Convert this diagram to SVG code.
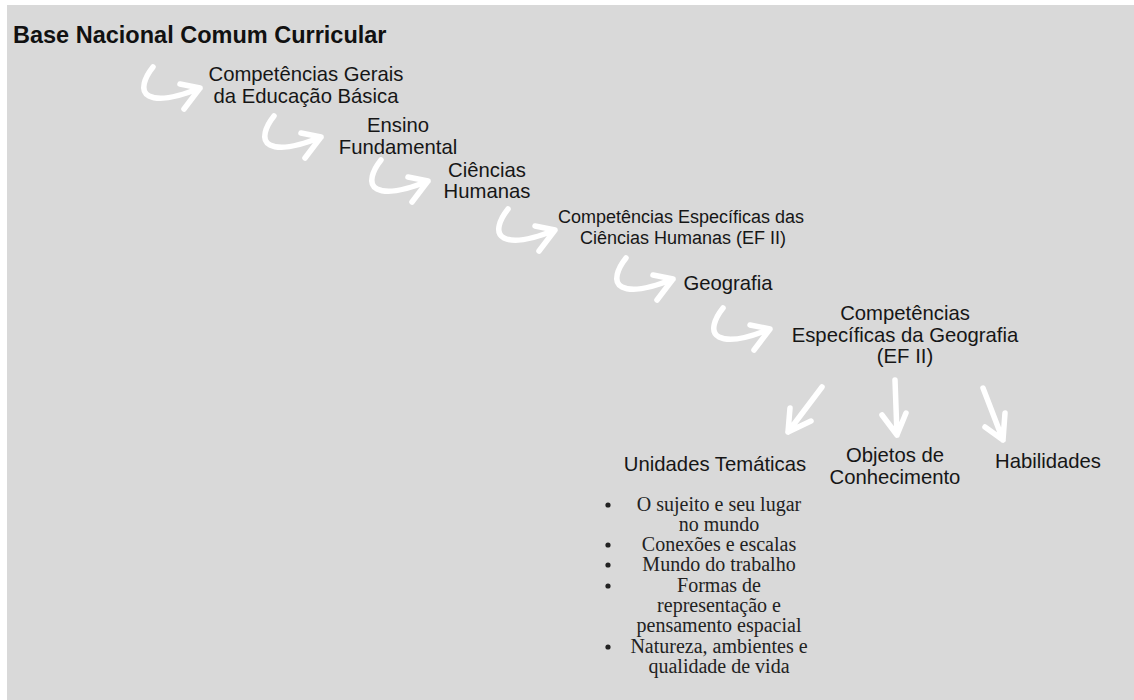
<svg xmlns="http://www.w3.org/2000/svg" width="1134" height="700" viewBox="0 0 1134 700">
<defs>
<style>
.t{font-family:"Liberation Sans",Arial,sans-serif;font-size:20.3px;fill:#161616;text-anchor:middle}
.s{font-size:18px}
.h{font-family:"Liberation Sans",Arial,sans-serif;font-size:23.5px;font-weight:bold;fill:#111}
.b{font-family:"Liberation Serif","Times New Roman",serif;font-size:20px;fill:#222;text-anchor:middle}
.a{fill:none;stroke:#fff;stroke-width:5.5;stroke-linecap:round;stroke-linejoin:round}
</style>
<path id="hook" d="M0,0 C-8,10 -14,24 -4,29 C8,35 30,28 47,21 M27,17 L47,21 L31,42"/>
</defs>
<rect x="0" y="0" width="1134" height="700" fill="#fff"/>
<rect x="7" y="5" width="1127" height="695" fill="#d9d9d9"/>
<text class="h" x="13" y="43">Base Nacional Comum Curricular</text>
<g id="connectors" class="a">
<use href="#hook" transform="translate(153,67)"/>
<use href="#hook" transform="translate(274,116)"/>
<use href="#hook" transform="translate(381,160)"/>
<use href="#hook" transform="translate(508,209)"/>
<use href="#hook" transform="translate(626,258)"/>
<use href="#hook" transform="translate(723,308)"/>
<path d="M822,387 L788,432 M790,408 L788,432 L811,421"/>
<path d="M895,380 L897,435 M882,415 L897,435 L906,413"/>
<path d="M983,388 L1003,440 M985,427 L1003,440 L1005,413"/>
</g>
<g id="n1"><text class="t" x="306" y="81">Competências Gerais</text><text class="t" x="306" y="102.5">da Educação Básica</text></g>
<g id="n2"><text class="t" x="398" y="132">Ensino</text><text class="t" x="398" y="153.5">Fundamental</text></g>
<g id="n3"><text class="t" x="487" y="176.5">Ciências</text><text class="t" x="487" y="198">Humanas</text></g>
<g id="n4"><text class="t s" x="681" y="223">Competências Específicas das</text><text class="t s" x="683" y="244">Ciências Humanas (EF II)</text></g>
<g id="n5"><text class="t" x="728" y="290">Geografia</text></g>
<g id="n6"><text class="t" x="905" y="320">Competências</text><text class="t" x="905" y="341.5">Específicas da Geografia</text><text class="t" x="905" y="363">(EF II)</text></g>
<g id="n7"><text class="t" x="715" y="471">Unidades Temáticas</text></g>
<g id="n8"><text class="t" x="895" y="462">Objetos de</text><text class="t" x="895" y="483.5">Conhecimento</text></g>
<g id="n9"><text class="t" x="1048" y="468">Habilidades</text></g>
<g id="list">
<g fill="#222"><circle cx="608" cy="505" r="2.6"/><circle cx="608" cy="545" r="2.6"/><circle cx="608" cy="565" r="2.6"/><circle cx="608" cy="586" r="2.6"/><circle cx="608" cy="647" r="2.6"/></g>
<text class="b" x="719" y="511">O sujeito e seu lugar</text>
<text class="b" x="719" y="531">no mundo</text>
<text class="b" x="719" y="551">Conexões e escalas</text>
<text class="b" x="719" y="571">Mundo do trabalho</text>
<text class="b" x="719" y="592">Formas de</text>
<text class="b" x="719" y="612">representação e</text>
<text class="b" x="719" y="632">pensamento espacial</text>
<text class="b" x="719" y="653">Natureza, ambientes e</text>
<text class="b" x="719" y="673">qualidade de vida</text>
</g>
</svg>
